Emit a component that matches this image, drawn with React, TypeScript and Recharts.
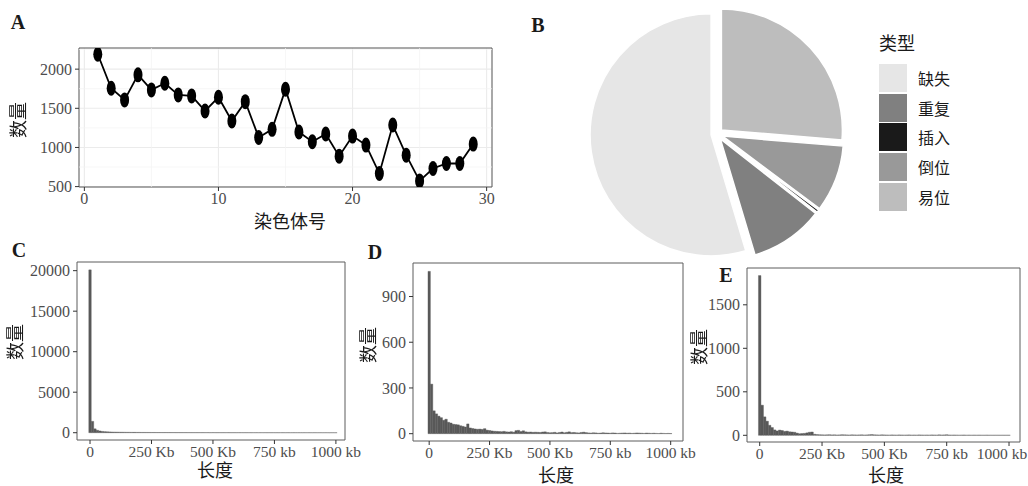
import React from 'react';
import {
  LineChart, Line, XAxis, YAxis, CartesianGrid, ReferenceLine, ReferenceArea,
  BarChart, Bar, PieChart, Pie, Cell, Sector,
} from 'recharts';

const FONT = "'Liberation Serif', 'Noto Sans CJK SC', serif";
const TICK_COLOR = '#4D4D4D';
const BORDER = '#5c5c5c';

// Panel A: SV count per chromosome
const chromosomes = [1, 2, 3, 4, 5, 6, 7, 8, 9, 10, 11, 12, 13, 14, 15, 16, 17, 18, 19, 20, 21, 22, 23, 24, 25, 26, 27, 28, 29];
const chromCounts = [2190, 1756, 1607, 1927, 1735, 1820, 1671, 1658, 1466, 1641, 1338, 1585, 1128, 1231, 1744, 1197, 1073, 1171, 889, 1145, 1030, 667, 1286, 902, 573, 731, 795, 795, 1043];
const chromXTicks = [0, 10, 20, 30];
const chromYTicks = [500, 1000, 1500, 2000];
const chromXMinor = [5, 15, 25];
const chromYMinor = [750, 1250, 1750, 2250];

// Panel B: SV types (clockwise from 12 o'clock)
const svTypes = ['易位', '倒位', '插入', '重复', '缺失'];
const svShares = [26.3, 8.9, 0.35, 9.8, 54.6];
const svColors = ['#BDBDBD', '#999999', '#1A1A1A', '#808080', '#E6E6E6'];
const legendOrder = ['缺失', '重复', '插入', '倒位', '易位'];

// Panels C-E: length histograms, 10 kb bins
const BIN_KB = 10;
const lengthBinsKb = Array.from({ length: 101 }, (_, i) => i * BIN_KB);
const lengthTicks = [0, 250, 500, 750, 1000];
const lengthTickLabels = ['0', '250 Kb', '500 Kb', '750 kb', '1000 kb'];

const countsC = [
  20100, 1400, 480, 300, 215, 160, 128, 112, 96, 84,
  76, 71, 64, 61, 55, 50, 49, 44, 43, 39,
  38, 35, 34, 33, 30, 28, 29, 26, 25, 25,
  23, 24, 22, 21, 21, 19, 20, 18, 18, 17,
  17, 16, 16, 15, 15, 14, 15, 13, 14, 12,
  13, 12, 12, 11, 12, 10, 11, 10, 10, 9,
  10, 9, 9, 8, 9, 8, 8, 7, 8, 7,
  7, 7, 6, 7, 6, 6, 6, 5, 6, 5,
  5, 5, 4, 5, 4, 4, 5, 4, 3, 4,
  3, 4, 3, 3, 3, 2, 3, 2, 2, 3,
  2,
];
const countsD = [
  1065, 325, 150, 130, 115, 105, 88, 95, 75, 70,
  62, 60, 58, 52, 48, 44, 64, 38, 34, 31,
  29, 30, 28, 33, 23, 21, 18, 16, 15, 14,
  13, 15, 12, 11, 13, 10, 20, 22, 14, 19,
  12, 10, 11, 9, 10, 9, 8, 11, 12, 8,
  6, 7, 9, 5, 8, 11, 6, 9, 12, 7,
  8, 6, 5, 8, 10, 7, 5, 4, 6, 5,
  3, 4, 6, 5, 4, 3, 5, 4, 2, 3,
  4, 5, 3, 4, 2, 3, 5, 4, 3, 2,
  4, 3, 2, 3, 2, 1, 3, 2, 1, 2,
  1,
];
const countsE = [
  1836, 346, 212, 162, 115, 89, 62, 50, 60, 55,
  45, 48, 40, 38, 35, 25, 18, 20, 22, 28,
  35, 38, 12, 8, 6, 5, 4, 5, 6, 4,
  5, 3, 4, 6, 5, 4, 3, 5, 4, 3,
  4, 5, 3, 4, 6, 8, 5, 4, 3, 5,
  4, 3, 2, 4, 3, 2, 4, 3, 2, 3,
  4, 2, 3, 2, 4, 3, 2, 3, 2, 4,
  3, 2, 5, 3, 4, 6, 3, 2, 3, 2,
  1, 2, 3, 1, 2, 1, 2, 1, 2, 1,
  1, 2, 1, 1, 1, 1, 1, 1, 1, 1,
  1,
];

const ticksC = [0, 5000, 10000, 15000, 20000];
const ticksD = [0, 300, 600, 900];
const ticksE = [0, 500, 1000, 1500];

const tickStyle = { fill: TICK_COLOR, fontSize: 16, fontFamily: FONT };

function Txt({ x, y, children, size = 18, bold = false }: any) {
  return (
    <div
      style={{
        position: 'absolute', left: x, top: y, transform: 'translate(-50%, -50%)',
        fontSize: size, fontWeight: bold ? 700 : 400, fontFamily: FONT,
        color: '#1a1a1a', whiteSpace: 'nowrap', lineHeight: 1,
      }}
    >
      {children}
    </div>
  );
}

// rotated axis title; own layer so it gets grayscale antialiasing
function VTxt({ x, y, children, size = 18 }: any) {
  return (
    <svg
      width={30} height={60}
      style={{ position: 'absolute', left: x - 15, top: y - 30, overflow: 'visible', willChange: 'transform', opacity: 0.999 }}
    >
      <text
        x={15} y={30} transform="rotate(-90 15 30)" textAnchor="middle" dominantBaseline="central"
        fontSize={size} fontFamily={FONT} fill="#1a1a1a"
      >
        {children}
      </text>
    </svg>
  );
}

// chart placed so that its plot box lands on the given box
const M = { top: 10, right: 30, bottom: 10, left: 10 };
const YW = 60;

function LengthTick({ x, y, payload, lastDx = 0 }: any) {
  const i = lengthTicks.indexOf(payload.value);
  const dx = i === lengthTicks.length - 1 ? lastDx : 0;
  return (
    <text x={x + dx} y={y} dy="0.71em" textAnchor="middle" fill={TICK_COLOR} fontSize={15.5} fontFamily={FONT}>
      {lengthTickLabels[i]}
    </text>
  );
}

function Histogram({ box, counts, xDomain, yDomain, yTicks, lastDx = 0 }: any) {
  const data = lengthBinsKb.map((kb, i) => ({ kb, count: counts[i] }));
  const binPx = (box.width * BIN_KB) / (xDomain[1] - xDomain[0]);
  return (
    <div style={{ position: 'absolute', left: box.left - YW - M.left, top: box.top - M.top }}>
      <BarChart
        width={box.width + YW + M.left + M.right}
        height={box.height + M.top + M.bottom + 30}
        data={data}
        margin={M}
        barCategoryGap={0}
        barGap={0}
      >
        <XAxis
          type="number" dataKey="kb" domain={xDomain} allowDataOverflow
          ticks={lengthTicks} axisLine={false} tickLine={{ stroke: '#333' }} tickSize={4} tickMargin={2}
          tick={(p: any) => <LengthTick {...p} lastDx={lastDx} />} interval={0}
        />
        <YAxis
          type="number" domain={yDomain} allowDataOverflow ticks={yTicks} width={YW}
          axisLine={false} tickLine={{ stroke: '#333' }} tickSize={4} tickMargin={3}
          tick={tickStyle} interval={0}
        />
        <Bar
          dataKey="count" fill="#595959" stroke="#595959" strokeWidth={0.4}
          barSize={binPx * 0.995} isAnimationActive={false}
        />
        <ReferenceArea
          x1={xDomain[0]} x2={xDomain[1]} y1={yDomain[0]} y2={yDomain[1]}
          fill="none" stroke={BORDER} strokeWidth={1} ifOverflow="visible"
        />
      </BarChart>
    </div>
  );
}

const RAD = Math.PI / 180;
const explodedSector = (props: any) => {
  const { cx, cy, midAngle } = props;
  const dx = 6 * Math.cos(-midAngle * RAD);
  const dy = 6 * Math.sin(-midAngle * RAD);
  return <Sector {...props} cx={cx + dx} cy={cy + dy} />;
};

export default function App() {
  const chromData = chromosomes.map((c, i) => ({ chr: c, n: chromCounts[i] }));
  const svData = svTypes.map((t, i) => ({ type: t, share: svShares[i] }));
  const boxA = { left: 79, top: 48, width: 413, height: 139 };
  const aX = [-0.4, 30.4];
  const aY = [495, 2270];

  return (
    <div style={{ position: 'fixed', left: 0, top: 0, width: 1028, height: 486, background: '#fff', overflow: 'hidden', fontFamily: FONT }}>
      {/* A */}
      <div style={{ position: 'absolute', left: boxA.left - YW - M.left, top: boxA.top - M.top }}>
        <LineChart
          width={boxA.width + YW + M.left + M.right}
          height={boxA.height + M.top + M.bottom + 30}
          data={chromData}
          margin={M}
        >
          <CartesianGrid stroke="#EBEBEB" strokeWidth={1.1} />
          {chromXMinor.map((v) => <ReferenceLine key={'x' + v} x={v} stroke="#F4F4F4" strokeWidth={0.7} />)}
          {chromYMinor.map((v) => <ReferenceLine key={'y' + v} y={v} stroke="#F4F4F4" strokeWidth={0.7} />)}
          <XAxis
            type="number" dataKey="chr" domain={aX} allowDataOverflow ticks={chromXTicks}
            axisLine={false} tickLine={{ stroke: '#333' }} tickSize={4} tickMargin={2}
            tick={tickStyle} interval={0}
          />
          <YAxis
            type="number" domain={aY} allowDataOverflow ticks={chromYTicks} width={YW}
            axisLine={false} tickLine={{ stroke: '#333' }} tickSize={4} tickMargin={3}
            tick={tickStyle} interval={0}
          />
          <ReferenceArea x1={aX[0]} x2={aX[1]} y1={aY[0]} y2={aY[1]} fill="none" stroke={BORDER} ifOverflow="visible" />
          <Line
            dataKey="n" stroke="#000" strokeWidth={1.8} isAnimationActive={false}
            dot={(p: any) => <ellipse key={p.index} cx={p.cx} cy={p.cy} rx={4.5} ry={7.5} fill="#000" />}
          />
        </LineChart>
      </div>
      <Txt x={18} y={22} size={20} bold>A</Txt>
      <VTxt x={19} y={120}>数量</VTxt>
      <Txt x={290} y={222}>染色体号</Txt>

      {/* B */}
      <div style={{ position: 'absolute', left: 580, top: 0 }}>
        <PieChart width={280} height={262}>
          <Pie
            data={svData} dataKey="share" nameKey="type"
            cx={132} cy={129} outerRadius={121}
            startAngle={90} endAngle={-270}
            stroke="#fff" strokeWidth={1.5}
            shape={explodedSector} inactiveShape={explodedSector} activeShape={explodedSector}
            isAnimationActive={false}
          >
            {svData.map((d, i) => <Cell key={d.type} fill={svColors[i]} />)}
          </Pie>
        </PieChart>
      </div>
      <Txt x={538} y={25} size={20} bold>B</Txt>
      <Txt x={897} y={44}>类型</Txt>
      <div style={{ position: 'absolute', left: 879, top: 63 }}>
        {legendOrder.map((t) => (
          <div key={t} style={{ display: 'flex', alignItems: 'center', height: 29.8 }}>
            <div style={{ width: 28, height: 28, background: svColors[svTypes.indexOf(t)] }} />
            <span style={{ marginLeft: 11, fontSize: 16, color: '#1a1a1a' }}>{t}</span>
          </div>
        ))}
      </div>

      {/* C */}
      <Histogram box={{ left: 77, top: 262, width: 268, height: 178 }} counts={countsC} xDomain={[-53, 1037]} yDomain={[-900, 21070]} yTicks={ticksC} />
      <Txt x={19} y={250} size={20} bold>C</Txt>
      <VTxt x={16} y={342}>数量</VTxt>
      <Txt x={215} y={471}>长度</Txt>

      {/* D */}
      <Histogram box={{ left: 413, top: 263, width: 270, height: 178 }} counts={countsD} xDomain={[-67, 1051]} yDomain={[-48, 1120]} yTicks={ticksD} />
      <Txt x={375} y={252} size={20} bold>D</Txt>
      <VTxt x={369} y={345}>数量</VTxt>
      <Txt x={556} y={476}>长度</Txt>

      {/* E */}
      <Histogram box={{ left: 747, top: 268, width: 273, height: 174 }} counts={countsE} xDomain={[-51, 1044]} yDomain={[-77, 1923]} yTicks={ticksE} lastDx={-7} />
      <Txt x={726} y={275} size={20} bold>E</Txt>
      <VTxt x={700} y={347}>数量</VTxt>
      <Txt x={886} y={476}>长度</Txt>
    </div>
  );
}
